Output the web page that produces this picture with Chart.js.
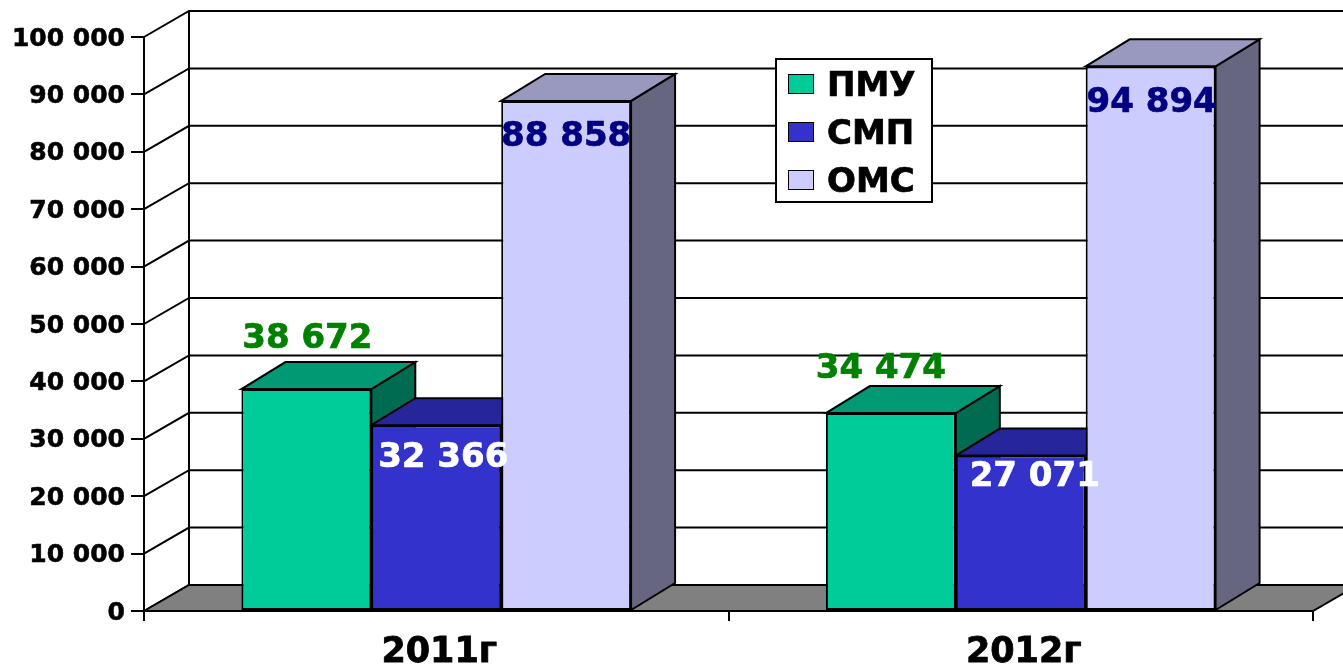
<!DOCTYPE html>
<html lang="ru">
<head>
<meta charset="utf-8">
<title>ПМУ, СМП, ОМС</title>
<script src="https://cdn.jsdelivr.net/npm/chart.js@4/dist/chart.umd.min.js"></script>
<style>
  html, body { margin: 0; padding: 0; background: #fff; overflow: hidden; }
  #wrap { position: relative; width: 1343px; height: 666px; }
  #legend {
    position: absolute; left: 775px; top: 58px; width: 154px; height: 141px;
    background: #fff; border: 2px solid #000;
    font: bold 34px "DejaVu Sans", sans-serif; color: #000;
    -webkit-text-stroke: 0.7px #000;
  }
  .row { position: absolute; left: 11px; height: 48px; display: flex; align-items: center; white-space: nowrap; }
  .swatch { width: 24px; height: 18px; border: 1.5px solid #000; margin-right: 13px; }
</style>
</head>
<body>
<div id="wrap">
  <canvas id="chart" width="1343" height="666"></canvas>
  <div id="legend"></div>
</div>
<script>
const categories = ['2011г', '2012г'];
const seriesNames = ['ПМУ', 'СМП', 'ОМС'];
const pmu = [38672, 34474];
const smp = [32366, 27071];
const oms = [88858, 94894];

// face colours per series: front, top, side
const frontColors = ['#00CC99', '#3333CC', '#CCCCFF'];
const topColors = ['#009973', '#26269A', '#9999BF'];
const sideColors = ['#006B50', '#1F1F7A', '#666680'];
const labelColors = ['#008000', '#FFFFFF', '#000080'];

// label shift from bar centre / bar top, [series][category]
const labelShiftX = [[1, -10], [7, 14], [0, 1]];
const labelShiftY = [[-50, -44], [33, 22], [36, 37]];

const WALL_DX = 45, WALL_DY = -26;
const BAR_DX = 44, BAR_DY = -27;
const FONT = '"DejaVu Sans", sans-serif';

function fmt(v) {
  return String(v).replace(/\B(?=(\d{3})+$)/g, ' ');
}

function poly(ctx, pts, fill) {
  ctx.beginPath();
  pts.forEach((p, i) => { if (i === 0) ctx.moveTo(p[0], p[1]); else ctx.lineTo(p[0], p[1]); });
  ctx.closePath();
  if (fill) { ctx.fillStyle = fill; ctx.fill(); }
  ctx.stroke();
}

const fake3d = {
  id: 'fake3d',
  beforeDatasetsDraw(chart) {
    const ctx = chart.ctx;
    const area = chart.chartArea;
    const yScale = chart.scales.y;
    ctx.save();
    ctx.strokeStyle = '#000';
    ctx.lineWidth = 2;

    // side wall diagonals and back wall grid
    yScale.ticks.forEach(t => {
      const y = yScale.getPixelForValue(t.value);
      ctx.beginPath();
      ctx.moveTo(area.left, y);
      ctx.lineTo(area.left + WALL_DX, y + WALL_DY);
      ctx.lineTo(area.right + WALL_DX, y + WALL_DY);
      ctx.stroke();
    });
    ctx.beginPath();
    ctx.moveTo(area.left + WALL_DX, area.top + WALL_DY);
    ctx.lineTo(area.left + WALL_DX, area.bottom + WALL_DY);
    ctx.stroke();

    // floor
    poly(ctx, [
      [area.left, area.bottom],
      [area.left + WALL_DX, area.bottom + WALL_DY],
      [area.right + WALL_DX, area.bottom + WALL_DY],
      [area.right, area.bottom]
    ], '#808080');

    // top and side of each bar, the fronts come from the library afterwards
    categories.forEach((c, j) => {
      seriesNames.forEach((s, i) => {
        const bar = chart.getDatasetMeta(i).data[j];
        const l = bar.x - bar.width / 2, r = bar.x + bar.width / 2;
        poly(ctx, [[r, bar.y], [r + BAR_DX, bar.y + BAR_DY], [r + BAR_DX, bar.base + BAR_DY], [r, bar.base]], sideColors[i]);
        poly(ctx, [[l, bar.y], [l + BAR_DX, bar.y + BAR_DY], [r + BAR_DX, bar.y + BAR_DY], [r, bar.y]], topColors[i]);
      });
    });
    ctx.restore();
  },
  afterDatasetsDraw(chart) {
    const ctx = chart.ctx;
    ctx.save();
    ctx.font = 'bold 34px ' + FONT;
    ctx.textAlign = 'center';
    ctx.textBaseline = 'middle';
    ctx.lineWidth = 0.7;
    categories.forEach((c, j) => {
      seriesNames.forEach((s, i) => {
        const bar = chart.getDatasetMeta(i).data[j];
        const txt = fmt(chart.data.datasets[i].data[j]);
        const tx = bar.x + labelShiftX[i][j], ty = bar.y + labelShiftY[i][j];
        ctx.fillStyle = labelColors[i];
        ctx.strokeStyle = labelColors[i];
        ctx.fillText(txt, tx, ty);
        ctx.strokeText(txt, tx, ty);
      });
    });
    ctx.restore();
  }
};

new Chart(document.getElementById('chart'), {
  type: 'bar',
  plugins: [fake3d],
  data: {
    labels: categories,
    datasets: [pmu, smp, oms].map((vals, i) => ({
      label: seriesNames[i],
      data: vals,
      backgroundColor: frontColors[i],
      borderColor: '#000',
      borderWidth: 2,
      borderSkipped: false,
      categoryPercentage: 0.6667,
      barPercentage: 1
    }))
  },
  options: {
    responsive: false,
    animation: false,
    layout: { padding: { top: 37, right: 30, left: 0, bottom: 0 } },
    plugins: { legend: { display: false }, tooltip: { enabled: false } },
    scales: {
      x: {
        afterFit: s => { s.height = 55; },
        grid: { drawOnChartArea: false, color: '#000', lineWidth: 2, tickLength: 10 },
        border: { color: '#000', width: 2 },
        ticks: {
          color: '#000',
          font: { family: FONT, size: 35, weight: 'bold' },
          padding: 11,
          labelOffset: 3,
          maxRotation: 0,
          textStrokeColor: '#000',
          textStrokeWidth: 0.8
        }
      },
      y: {
        min: 0,
        max: 100000,
        afterFit: s => { s.width = 144; },
        grid: { drawOnChartArea: false, color: '#000', lineWidth: 2, tickLength: 13 },
        border: { color: '#000', width: 2 },
        ticks: {
          stepSize: 10000,
          color: '#000',
          padding: 6,
          labelOffset: 2,
          font: { family: FONT, size: 25, weight: 'bold' },
          textStrokeColor: '#000',
          textStrokeWidth: 0.6,
          callback: v => fmt(v)
        }
      }
    }
  }
});

// legend box
document.getElementById('legend').innerHTML = seriesNames.map((s, i) =>
  `<div class="row" style="top:${i * 48}px"><span class="swatch" style="background:${frontColors[i]}"></span>${s}</div>`
).join('');
</script>
</body>
</html>
